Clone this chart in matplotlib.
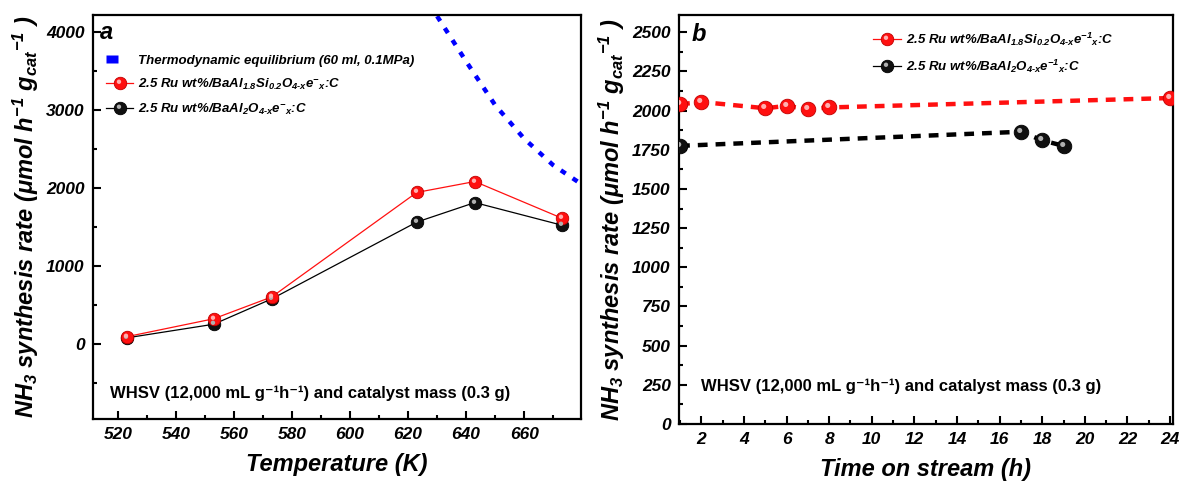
import matplotlib
matplotlib.use("Agg")
import matplotlib.pyplot as plt
from matplotlib.lines import Line2D
from matplotlib.legend_handler import HandlerTuple
from matplotlib.path import Path
from matplotlib.ticker import MultipleLocator

plt.rcParams['font.family'] = ['Liberation Sans', 'DejaVu Sans']
plt.rcParams['font.weight'] = 'bold'
plt.rcParams['font.style'] = 'italic'
plt.rcParams['mathtext.fontset'] = 'custom'
plt.rcParams['mathtext.rm'] = 'Liberation Sans:bold:italic'
plt.rcParams['mathtext.it'] = 'Liberation Sans:bold:italic'
plt.rcParams['mathtext.bf'] = 'Liberation Sans:bold:italic'

# ---- panel a: rate vs temperature ----
temperature = [523, 553, 573, 623, 643, 673]
rate_si = [90, 320, 600, 1940, 2080, 1610]
rate_al = [75, 250, 575, 1560, 1810, 1520]
eq_temperature = [630, 640, 650, 660, 670, 680]
eq_rate = [4200, 3620, 3060, 2630, 2290, 2040]

# ---- panel b: stability over time on stream ----
time_si = [1, 2, 5, 6, 7, 8, 24]
stab_si = [2040, 2055, 2015, 2030, 2010, 2020, 2080]
time_al = [1, 17, 18, 19]
stab_al = [1775, 1865, 1810, 1775]

label_eq = "Thermodynamic equilibrium (60 ml, 0.1MPa)"
label_si_a = r"2.5 Ru wt%/BaAl$_{1.8}$Si$_{0.2}$O$_{4\text{-}x}$e$^{-}$$_{x}$:C"
label_al_a = r"2.5 Ru wt%/BaAl$_{2}$O$_{4\text{-}x}$e$^{-}$$_{x}$:C"
label_si_b = r"2.5 Ru wt%/BaAl$_{1.8}$Si$_{0.2}$O$_{4\text{-}x}$e$^{-1}$$_{x}$:C"
label_al_b = r"2.5 Ru wt%/BaAl$_{2}$O$_{4\text{-}x}$e$^{-1}$$_{x}$:C"
ylabel = r"NH$_3$ synthesis rate (μmol h$^{-1}$ g$_{cat}$$^{-1}$ )"
note = "WHSV (12,000 mL g\u207b\u00b9h\u207b\u00b9) and catalyst mass (0.3 g)"

RED, RED_EDGE, RED_HI = "#ff1010", "#c00000", "#ffb0b0"
BLK, BLK_EDGE, BLK_HI = "#101010", "#000000", "#b0b0b0"

W, H = 1184, 484
fig = plt.figure(figsize=(W / 100, H / 100), dpi=100)
ax1 = fig.add_axes([93 / W, 1 - 419 / H, 488 / W, 404 / H])
ax2 = fig.add_axes([679 / W, 1 - 424 / H, 494 / W, 409 / H])

# small glossy spot, placed up and to the left of the marker centre
SHINE_C, SHINE_R = (-1.1, 1.26), 1.575
shine_path = Path.circle(center=SHINE_C, radius=SHINE_R)
SHINE_EXTENT = max(abs(SHINE_C[0]), abs(SHINE_C[1])) + SHINE_R


def shine_size(ms):
    # marker size giving a spot of 0.35*ms diameter, offset as for a 9 pt ball
    return 2 * SHINE_EXTENT * (ms / 9.0)


def sphere(ax, x, y, color, edge, hi, ms, zorder=4):
    ax.plot(x, y, ls="none", marker="o", ms=ms, mfc=color, mec=edge, mew=0.6,
            zorder=zorder, clip_on=True)
    ax.plot(x, y, ls="none", marker=shine_path, ms=shine_size(ms), mfc=hi,
            mec="none", zorder=zorder + 0.1, clip_on=True)


def style_axes(ax):
    for s in ax.spines.values():
        s.set_linewidth(1.6)
    ax.tick_params(which="both", direction="in", top=False, right=False,
                   labelsize=12.5, width=1.5)
    ax.tick_params(which="major", length=6, pad=6)
    ax.tick_params(which="minor", length=3)
    for lab in ax.get_xticklabels() + ax.get_yticklabels():
        lab.set_fontweight("bold")
        lab.set_fontstyle("italic")


def legend_handle(color, edge, hi, ms):
    base = Line2D([], [], color="black" if color == BLK else color, lw=0.9,
                  marker="o", ms=ms, mfc=color, mec=edge, mew=0.6)
    shine = Line2D([], [], ls="none", marker=shine_path, ms=shine_size(ms),
                   mfc=hi, mec="none")
    return (base, shine)


legend_kw = dict(handler_map={tuple: HandlerTuple(ndivide=1, pad=0)},
                 loc="upper left", frameon=False,
                 prop={"size": 9.5, "weight": "bold", "style": "italic"},
                 handlelength=2.1, handletextpad=0.35, labelspacing=0.75,
                 borderaxespad=0.3)

# ---------- panel a ----------
ax1.plot(eq_temperature, eq_rate, color="#0000ff", lw=3.2, dashes=(1.3, 1.9), zorder=2)
ax1.plot(temperature, rate_si, color=RED, lw=0.9, zorder=3)
ax1.plot(temperature, rate_al, color="black", lw=0.9, zorder=3)
sphere(ax1, temperature, rate_al, BLK, BLK_EDGE, BLK_HI, 9)
sphere(ax1, temperature, rate_si, RED, RED_EDGE, RED_HI, 9)
ax1.set_xlim(511.4, 679.6)
ax1.set_ylim(-965, 4215)
ax1.xaxis.set_major_locator(MultipleLocator(20))
ax1.xaxis.set_minor_locator(MultipleLocator(10))
ax1.yaxis.set_major_locator(MultipleLocator(1000))
ax1.yaxis.set_minor_locator(MultipleLocator(500))
style_axes(ax1)
ax1.set_xlabel("Temperature (K)", fontsize=17, fontweight="bold", fontstyle="italic", labelpad=8)
ax1.set_ylabel(ylabel, fontsize=17, fontweight="bold", fontstyle="italic", labelpad=4)
ax1.text(0.015, 0.985, "a", transform=ax1.transAxes, fontsize=17, fontweight="bold",
         fontstyle="italic", va="top", ha="left")
ax1.text(0.035, 0.064, note, transform=ax1.transAxes, fontsize=12, fontweight="bold",
         fontstyle="normal", va="center", ha="left")

# equilibrium key: a flat blue block set slightly left of the handle centre
rect = Path([(-2.3, -0.6), (-0.3, -0.6), (-0.3, 0.6), (-2.3, 0.6), (-2.3, -0.6)],
            closed=True)
h_eq = Line2D([], [], ls="none", marker=rect, ms=20, mfc="#0000ff", mec="none")

ax1.legend([h_eq, legend_handle(RED, RED_EDGE, RED_HI, 9),
            legend_handle(BLK, BLK_EDGE, BLK_HI, 9)],
           [label_eq, label_si_a, label_al_a],
           bbox_to_anchor=(0.007, 0.925), **legend_kw)

# ---------- panel b ----------
ax2.plot(time_si, stab_si, color=RED, lw=3.2, dashes=(2.2, 1.8), zorder=2)
ax2.plot(time_al, stab_al, color="black", lw=3.2, dashes=(2.2, 1.8), zorder=2)
sphere(ax2, time_si, stab_si, RED, RED_EDGE, RED_HI, 10.5)
sphere(ax2, time_al, stab_al, BLK, BLK_EDGE, BLK_HI, 10.5)
ax2.set_xlim(0.95, 24.14)
ax2.set_ylim(0, 2610)
ax2.xaxis.set_major_locator(MultipleLocator(2))
ax2.xaxis.set_minor_locator(MultipleLocator(1))
ax2.yaxis.set_major_locator(MultipleLocator(250))
ax2.yaxis.set_minor_locator(MultipleLocator(125))
style_axes(ax2)
ax2.set_xlabel("Time on stream (h)", fontsize=17, fontweight="bold", fontstyle="italic", labelpad=8)
ax2.set_ylabel(ylabel, fontsize=17, fontweight="bold", fontstyle="italic", labelpad=4)
ax2.text(0.025, 0.98, "b", transform=ax2.transAxes, fontsize=17, fontweight="bold",
         fontstyle="italic", va="top", ha="left")
ax2.text(0.044, 0.093, note, transform=ax2.transAxes, fontsize=12, fontweight="bold",
         fontstyle="normal", va="center", ha="left")

ax2.legend([legend_handle(RED, RED_EDGE, RED_HI, 9),
            legend_handle(BLK, BLK_EDGE, BLK_HI, 9)],
           [label_si_b, label_al_b],
           bbox_to_anchor=(0.375, 0.985), **legend_kw)

fig.savefig("out.png", dpi=100)
